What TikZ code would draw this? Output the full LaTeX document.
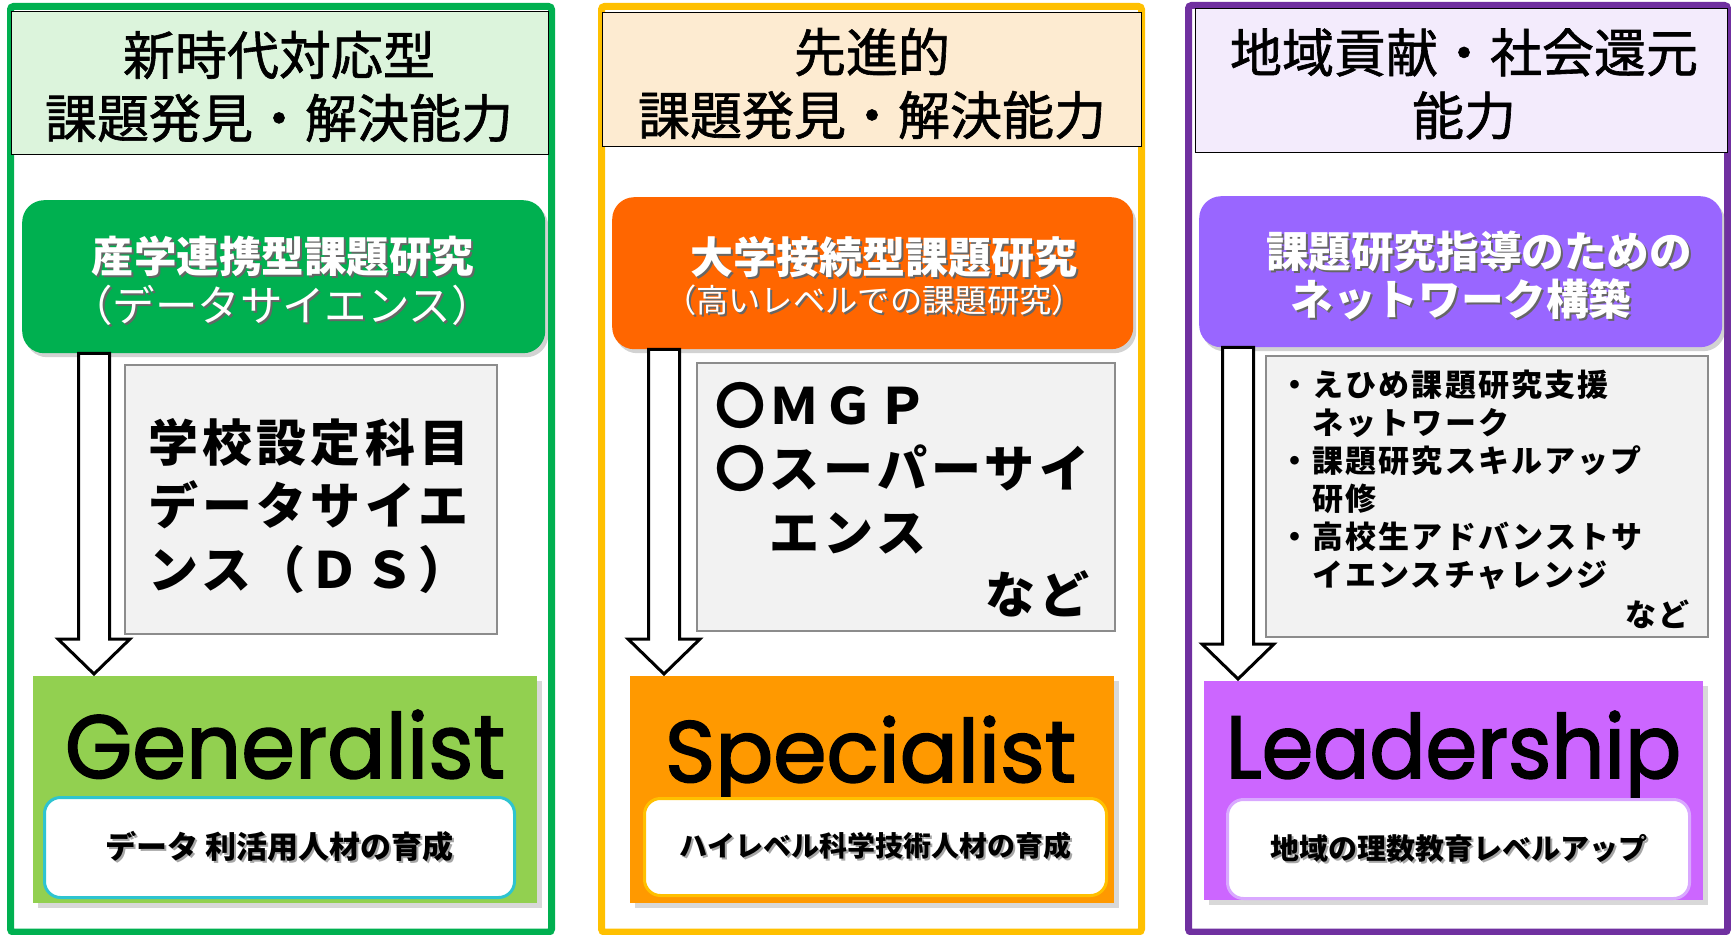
\documentclass[tikz,border=0pt]{standalone}
\usepackage{fontspec}
\usepackage{graphicx}
\usetikzlibrary{calc,shadows}
\newfontfamily\jp{Noto Sans CJK JP}
\newfontfamily\jph[FakeBold=1.2]{Noto Sans CJK JP}
\newfontfamily\jpls[LetterSpace=8.5]{Noto Sans CJK JP}
\newfontfamily\jplss[LetterSpace=7]{Noto Sans CJK JP}
\newfontfamily\geo[FakeBold=2]{Poppins}
\definecolor{gborder}{HTML}{00B050}
\definecolor{oborder}{HTML}{FFC000}
\definecolor{pborder}{HTML}{7030A0}
\definecolor{ghead}{HTML}{DCF4DC}
\definecolor{ohead}{HTML}{FDEBD1}
\definecolor{phead}{HTML}{F3EBFC}
\definecolor{gtop}{HTML}{00B050}
\definecolor{otop}{HTML}{FF6600}
\definecolor{ptop}{HTML}{9966FF}
\definecolor{grayfill}{HTML}{F2F2F2}
\definecolor{grayline}{HTML}{8C8C8C}
\definecolor{gres}{HTML}{92D050}
\definecolor{ores}{HTML}{FF9900}
\definecolor{pres}{HTML}{CC66FF}
\definecolor{gline}{HTML}{2EC4D0}
\definecolor{oline}{HTML}{FFC000}
\definecolor{pline}{HTML}{D9A8FF}
\newcommand\tsh[2]{\makebox[0pt][l]{\hspace*{2pt}\raisebox{-2pt}{\textcolor{#1}{#2}}}#2}
\newcommand\bigword[3]{\resizebox{#1pt}{#2pt}{\geo #3}}
\begin{document}
\begin{tikzpicture}[x=1pt,y=-1pt,
  outer/.style={line width=7pt, rounded corners=3pt},
  headbox/.style={draw=black, line width=1.3pt, inner sep=0pt, anchor=north west},
  headtext/.style={font={\fontsize{52}{63}\jph}, align=center, inner sep=0pt},
  topbox/.style={rounded corners=22pt, inner sep=0pt, anchor=north west,
     drop shadow={shadow xshift=3pt, shadow yshift=-4pt, opacity=0.35}},
  topB/.style={font={\fontsize{#1}{#1}\jp\bfseries}, text=white, inner sep=0pt},
  topR/.style={font={\fontsize{#1}{#1}\jp}, text=white, inner sep=0pt},
  graybox/.style={draw=grayline, fill=grayfill, line width=2.2pt, inner sep=0pt, anchor=north west},
  graytext/.style={font={\fontsize{50}{63.5}\jpls\bfseries}, align=left, inner sep=0pt},
  smalltext/.style={font={\fontsize{31}{38}\jplss\bfseries}, align=left, inner sep=0pt},
  resbox/.style={inner sep=0pt, anchor=north west,
     drop shadow={shadow xshift=5pt, shadow yshift=-5pt, opacity=0.3}},
  innerbox/.style={fill=white, line width=3pt, rounded corners=16pt, inner sep=0pt, anchor=north west},
  wordnode/.style={inner sep=0pt, anchor=base},
  blockarrow/.style={draw=black, fill=white, line width=3pt, line join=miter}
]
\useasboundingbox (0,0) rectangle (1731,934);
\fill[white] (0,0) rectangle (1731,934);

% outer frames
\draw[outer, draw=gborder] (10.5,6.5) rectangle (551.5,932);
\draw[outer, draw=oborder] (601.5,6.5) rectangle (1141.5,932);
\draw[outer, draw=pborder] (1188.5,5.5) rectangle (1727.5,932);

% headers
\node[headbox, fill=ghead, minimum width=537, minimum height=143] (h1) at (11,11) {};
\node[headtext] (h1t) at (279,86.5) {新時代対応型\\課題発見・解決能力};
\node[headbox, fill=ohead, minimum width=539, minimum height=134] (h2) at (602,12) {};
\node[headtext] (h2t) at (872,83.5) {先進的\\課題発見・解決能力};
\node[headbox, fill=phead, minimum width=532, minimum height=144] (h3) at (1195,8) {};
\node[headtext] (h3t) at (1464,84) {地域貢献・社会還元\\能力};

% top rounded boxes
\node[topbox, fill=gtop, minimum width=523, minimum height=153] (top1) at (22,200) {};
\node[topB=42.5] (t1a) at (283,257) {\tsh{black!60}{産学連携型課題研究}};
\node[topR=42.5] (t1b) at (282,306) {\tsh{black!60}{（データサイエンス）}};
\node[topbox, fill=otop, minimum width=521, minimum height=152] (top2) at (612,197) {};
\node[topB=43] (t2a) at (884,258) {\tsh{black!60}{大学接続型課題研究}};
\node[topR=32.3] (t2b) at (874,301) {\tsh{black!60}{（高いレベルでの課題研究）}};
\node[topbox, fill=ptop, minimum width=523, minimum height=151] (top3) at (1199,196) {};
\node[topB=42.6] (t3a) at (1479,252) {\tsh{black!60}{課題研究指導のための}};
\node[topB=42.6] (t3b) at (1461,300) {\tsh{black!60}{ネットワーク構築}};

% gray boxes
\node[graybox, minimum width=372, minimum height=269] (g1) at (124,364) {};
\node[graytext, anchor=west] (g1t) at (148,506) {学校設定科目\\データサイエ\\ンス（ＤＳ）};
\node[graybox, minimum width=418, minimum height=268] (g2) at (696,362) {};
\node[graytext, anchor=west] (g2t) at (715,468) {〇ＭＧＰ\\〇スーパーサイ\\　エンス};
\node[graytext, anchor=east] (g2n) at (1090,594) {など};
\node[graybox, minimum width=442, minimum height=281] (g3) at (1265,355) {};
\node[smalltext, anchor=west] (g3t) at (1279,480) {・えひめ課題研究支援\\　ネットワーク\\・課題研究スキルアップ\\　研修\\・高校生アドバンストサ\\　イエンスチャレンジ};
\node[smalltext, anchor=east] (g3n) at (1690,614) {など};

% result boxes
\node[resbox, fill=gres, minimum width=504, minimum height=227] (res1) at (33,676) {};
\node[wordnode] (w1) at (285,778) {\bigword{440}{68}{Generalist}};
\node[innerbox, draw=gline, minimum width=470, minimum height=100, font={\fontsize{31}{31}\jp\bfseries}] (in1) at (43,796) {\tsh{black!35}{データ 利活用人材の育成}};

\node[resbox, fill=ores, minimum width=484, minimum height=227] (res2) at (630,676) {};
\node[wordnode] (w2) at (870.5,782) {\bigword{411}{66}{Specialist}};
\node[innerbox, draw=oline, minimum width=462, minimum height=97, font={\fontsize{28}{28}\jp\bfseries}] (in2) at (643,797) {\tsh{black!35}{ハイレベル科学技術人材の育成}};

\node[resbox, fill=pres, minimum width=499, minimum height=219] (res3) at (1204,681) {};
\node[wordnode] (w3) at (1453.5,778) {\bigword{455}{67}{Leadership}};
\node[innerbox, draw=pline, minimum width=462, minimum height=99, font={\fontsize{29}{29}\jp\bfseries}] (in3) at (1226,798) {\tsh{black!35}{地域の理数教育レベルアップ}};

% block arrows
\coordinate (a1s) at ([xshift=72pt]top1.south west);
\coordinate (a1t) at ([yshift=2pt]a1s |- res1.north);
\coordinate (a2s) at ([xshift=52pt]top2.south west);
\coordinate (a2t) at ([yshift=2pt]a2s |- res2.north);
\coordinate (a3s) at ([xshift=39pt]top3.south west);
\coordinate (a3t) at ([yshift=2pt]a3s |- res3.north);
\foreach \s/\t in {a1s/a1t,a2s/a2t,a3s/a3t}{
  \draw[blockarrow] ($(\s)+(-15.5,0)$) -- ($(\t)+(-15.5,-35)$) -- ($(\t)+(-36,-35)$) -- (\t)
     -- ($(\t)+(36,-35)$) -- ($(\t)+(15.5,-35)$) -- ($(\s)+(15.5,0)$) -- cycle;
}
\end{tikzpicture}
\end{document}
